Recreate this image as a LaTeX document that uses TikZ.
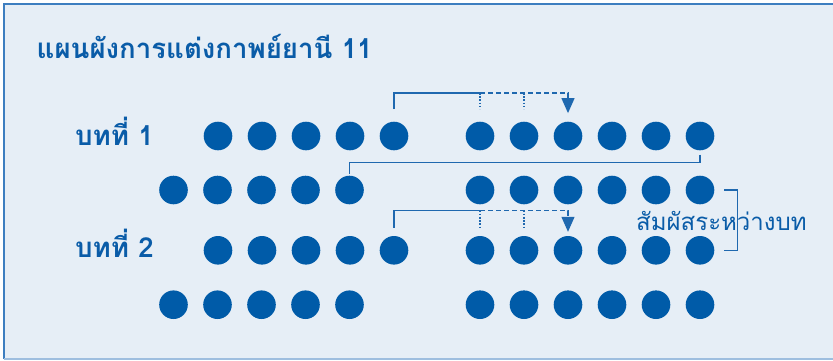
\documentclass[tikz,border=0pt]{standalone}
\usepackage{fontspec}
\newfontfamily\thaifont[Script=Thai]{Loma}
\usetikzlibrary{arrows.meta,calc}
\definecolor{bg}{HTML}{E6EEF6}
\definecolor{framec}{HTML}{3D7EC0}
\definecolor{dotc}{HTML}{005BA8}
\definecolor{linec}{HTML}{1F68AF}
\definecolor{textc}{HTML}{0A5CA8}
\begin{document}
\begin{tikzpicture}[x=1pt,y=-1pt,
  dotn/.style={circle,fill=dotc,draw=none,minimum size=28.6pt,inner sep=0pt},
  conn/.style={draw=linec,line width=1.2pt},
  dashc/.style={conn,dash pattern=on 5pt off 3pt},
  dotc2/.style={conn,dash pattern=on 1.6pt off 1.6pt},
  tip/.style={-{Triangle[width=13pt,length=15pt]}},
  lbl/.style={anchor=base west,inner sep=0pt,text=textc,font=\thaifont\bfseries\fontsize{27.6}{30}\selectfont},
  sidelbl/.style={anchor=base west,inner sep=0pt,text=textc,font=\thaifont\fontsize{24}{27}\selectfont}]
\useasboundingbox (0,0) rectangle (833,360);
\fill[bg] (4,4) rectangle (845,359);
\draw[framec,line width=2pt] (845,4) -- (4,4) -- (4,359);
\draw[framec!50,line width=1.5pt] (4,359) -- (845,359);

\node[lbl] (title) at (36.5,58.3) {แผนผังการแต่งกาพย์ยานี 11};
\node[lbl] (lab1) at (75,145.7) {บทที่ 1};
\node[lbl] (lab2) at (75,257.3) {บทที่ 2};

% dots
\foreach \i in {1,...,5} {
  \node[dotn] (r1l\i) at ({218+44*(\i-1)},136) {};
  \node[dotn] (r2l\i) at ({173.5+44*(\i-1)},190) {};
  \node[dotn] (r3l\i) at ({218+44*(\i-1)},250.3) {};
  \node[dotn] (r4l\i) at ({173.5+44*(\i-1)},304.7) {};
}
\foreach \i in {1,...,6} {
  \node[dotn] (r1r\i) at ({480+44*(\i-1)},136) {};
  \node[dotn] (r2r\i) at ({480+44*(\i-1)},190) {};
  \node[dotn] (r3r\i) at ({480+44*(\i-1)},250.3) {};
  \node[dotn] (r4r\i) at ({480+44*(\i-1)},304.7) {};
}

% connector stanza 1
\draw[conn] ([yshift=12.5pt]r1l5.north) -- ([yshift=28.5pt]r1l5.north) -- ([yshift=28.5pt]r1r1.north);
\draw[dotc2] ([yshift=28.5pt]r1r1.north) -- ([yshift=12.5pt]r1r1.north);
\draw[dotc2] ([yshift=28.5pt]r1r2.north) -- ([yshift=12.5pt]r1r2.north);
\draw[dashc,tip] ([yshift=28.5pt]r1r1.north) -- ([yshift=28.5pt]r1r3.north) -- ([yshift=8.4pt]r1r3.north);

% link between stanza lines
\draw[conn] ([yshift=-4pt]r1r6.south) |- ([yshift=13pt]r2l5.north) -- ([yshift=2pt]r2l5.north);

% connector stanza 2
\draw[conn] ([yshift=8.3pt]r3l5.north) -- ([yshift=25.3pt]r3l5.north) -- ([yshift=25.3pt]r3r1.north);
\draw[dotc2] ([yshift=25.3pt]r3r1.north) -- ([yshift=8.3pt]r3r1.north);
\draw[dotc2] ([yshift=25.3pt]r3r2.north) -- ([yshift=8.3pt]r3r2.north);
\draw[dashc,tip] ([yshift=25.3pt]r3r1.north) -- ([yshift=25.3pt]r3r3.north) -- ([yshift=4pt]r3r3.north);

% between-stanza label and bracket
\node[sidelbl] (side) at (636,230) {สัมผัสระหว่างบท};
\draw[conn] ([xshift=24pt]r2r6.center) -- ([xshift=37.5pt]r2r6.center) -- ([xshift=37.5pt]r3r6.center) -- ([xshift=24pt]r3r6.center);
\end{tikzpicture}
\end{document}
